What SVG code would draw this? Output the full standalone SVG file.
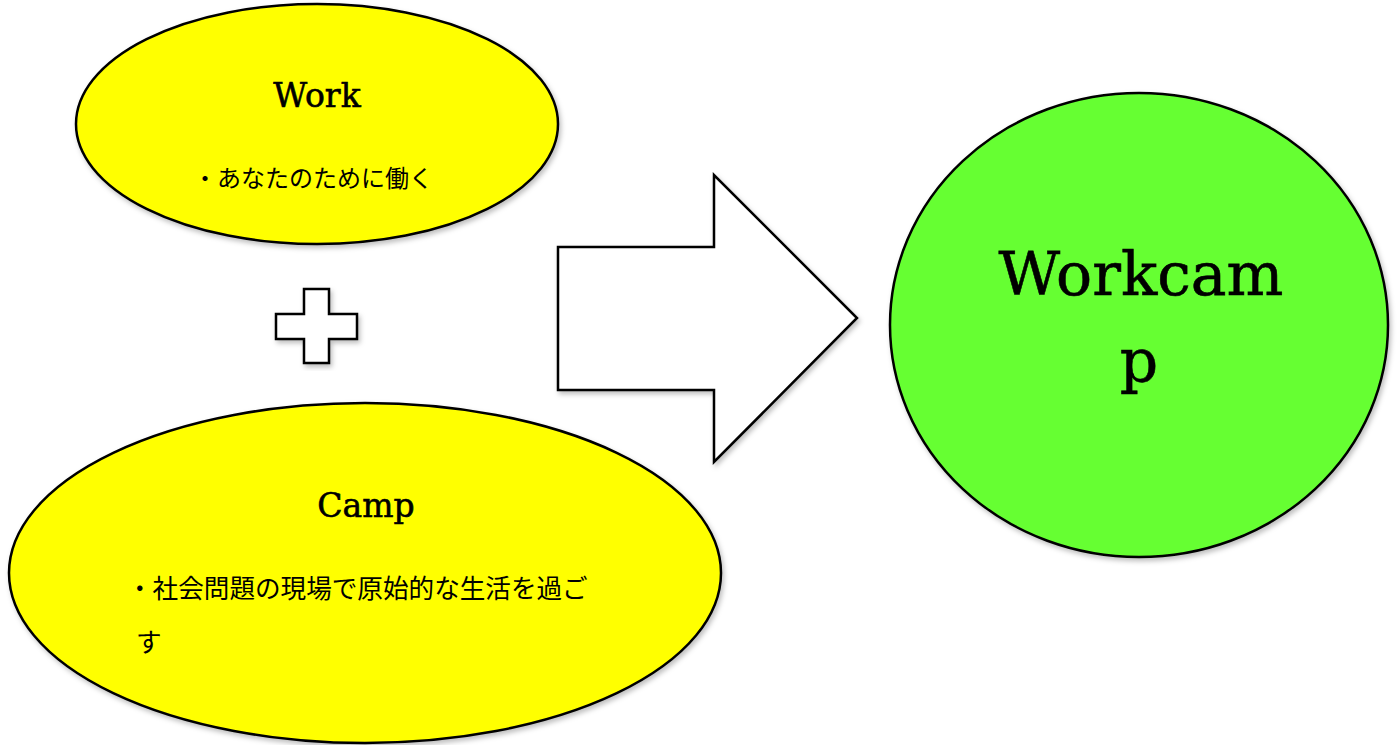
<svg xmlns="http://www.w3.org/2000/svg" width="1399" height="745" viewBox="0 0 1399 745">
<style>
.shape{stroke:#000;stroke-width:2.5;filter:url(#sh)}
.lat{font-family:"DejaVu Serif","Liberation Serif",serif;fill:#000;stroke:#000;stroke-width:0.6}
.jp{font-family:"Noto Sans CJK JP","Noto Sans",sans-serif;fill:#000}
</style>
<defs>
<filter id="sh" x="-10%" y="-10%" width="120%" height="120%">
<feDropShadow dx="2" dy="3" stdDeviation="2.5" flood-color="#000" flood-opacity="0.25"/>
</filter>
</defs>
<rect width="1399" height="745" fill="#fff"/>
<g id="work">
<ellipse class="shape" cx="317" cy="124" rx="241" ry="120" fill="#ffff00"/>
<text class="lat" x="317" y="107" font-size="33" text-anchor="middle">Work</text>
<text class="jp" x="193" y="187" font-size="24">・あなたのために働く</text>
</g>
<g id="plus">
<path class="shape" fill="#fff" d="M304,289 H329 V314 H357 V339 H329 V363 H304 V339 H276 V314 H304 Z"/>
</g>
<g id="camp">
<ellipse class="shape" cx="365" cy="573" rx="356" ry="170" fill="#ffff00"/>
<text class="lat" x="366" y="517" font-size="33" text-anchor="middle">Camp</text>
<text class="jp" x="127" y="598" font-size="25.6">・社会問題の現場で原始的な生活を過ご</text>
<text class="jp" x="136" y="652" font-size="25.6">す</text>
</g>
<g id="connectors">
<path class="shape" fill="#fff" d="M558,247 H714 V175 L857,318 L714,462 V390 H558 Z"/>
</g>
<g id="workcamp">
<ellipse class="shape" cx="1139" cy="325" rx="249" ry="232" fill="#66ff33"/>
<text class="lat" x="1141" y="295" font-size="60" text-anchor="middle">Workcam</text>
<text class="lat" x="1139" y="382" font-size="60" text-anchor="middle">p</text>
</g>
</svg>
